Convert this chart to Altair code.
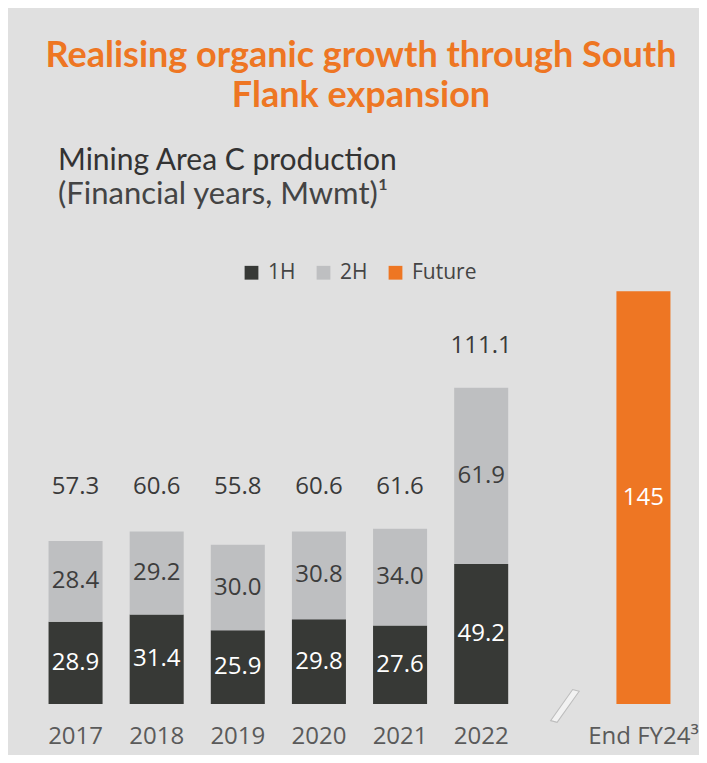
import altair as alt
import pandas as pd

# ---- data ----
years = ["2017", "2018", "2019", "2020", "2021", "2022"]
h1 = [28.9, 31.4, 25.9, 29.8, 27.6, 49.2]
h2 = [28.4, 29.2, 30.0, 30.8, 34.0, 61.9]
totals = [57.3, 60.6, 55.8, 60.6, 61.6, 111.1]
future_cat = "End FY24³"
future_val = 145
gap_cat = "gap"
domain = years + [gap_cat, future_cat]

series = ["1H", "2H", "Future"]
colors = ["#373936", "#bebfc1", "#ee7623"]
BG = "#e0e0e0"
ORANGE = "#ee7623"

rows = []
for y, a, b in zip(years, h1, h2):
    rows.append({"cat": y, "series": "1H", "value": a, "order": 0, "mid": a / 2,
                 "label": f"{a:.1f}", "light": 1})
    rows.append({"cat": y, "series": "2H", "value": b, "order": 1, "mid": a + b / 2,
                 "label": f"{b:.1f}", "light": 0})
rows.append({"cat": future_cat, "series": "Future", "value": future_val, "order": 0,
             "mid": future_val / 2, "label": f"{future_val}", "light": 1})
df = pd.DataFrame(rows)

tot_df = pd.DataFrame({
    "cat": years,
    "total": totals,
    "label": [f"{t:.1f}" for t in totals],
})
tot_df["ly"] = tot_df["total"].clip(lower=max(totals[:5])) + 14.5

NUMFONT = "Open Sans"
HEADFONT = "Lato"

x_enc = alt.X("cat:N", scale=alt.Scale(domain=domain, paddingInner=0.334, paddingOuter=0.167),
              sort=domain,
              axis=alt.Axis(title=None, labelAngle=0, domain=False, ticks=False,
                            labelPadding=20, labelFontSize=24, labelColor="#5a5a5a",
                            labelFont=NUMFONT,
                            labelExpr="datum.value == 'gap' ? '' : datum.value"))
y_scale = alt.Scale(domain=[0, 150])

bars = alt.Chart(df).mark_bar(stroke=None).encode(
    x=x_enc,
    y=alt.Y("value:Q", stack="zero", scale=y_scale, axis=None),
    color=alt.Color("series:N", scale=alt.Scale(domain=series, range=colors),
                    legend=alt.Legend(orient="none", legendX=206, legendY=-15,
                                      direction="horizontal", title=None,
                                      symbolType="square", symbolSize=190,
                                      symbolStrokeWidth=0, labelFontSize=21,
                                      labelFont=NUMFONT, labelColor="#444444",
                                      columnPadding=17, labelOffset=6)),
    order=alt.Order("order:Q"),
)

inner_light = alt.Chart(df).transform_filter("datum.light == 1").mark_text(
    fontSize=24, font=NUMFONT, baseline="middle", color="#ffffff").encode(
    x=alt.X("cat:N", sort=domain),
    y=alt.Y("mid:Q", scale=y_scale),
    text="label:N",
)
inner_dark = alt.Chart(df).transform_filter("datum.light == 0").mark_text(
    fontSize=24, font=NUMFONT, baseline="middle", color="#3d3d3d").encode(
    x=alt.X("cat:N", sort=domain),
    y=alt.Y("mid:Q", scale=y_scale),
    text="label:N",
)

tops = alt.Chart(tot_df).mark_text(fontSize=24, font=NUMFONT, baseline="middle",
                                    color="#3a3a3a").encode(
    x=alt.X("cat:N", sort=domain),
    y=alt.Y("ly:Q", scale=y_scale),
    text="label:N",
)

brk = alt.Chart(pd.DataFrame({"cat": [gap_cat], "v": [0]})).mark_text(
    text="/", fontSize=50, font=NUMFONT, fontWeight="bold", color="#f2f2f2",
    stroke="#bdbdbd", strokeWidth=1, baseline="middle", angle=15, dy=4, dx=3).encode(
    x=alt.X("cat:N", sort=domain),
    y=alt.Y("v:Q", scale=y_scale),
)

def txt(s, xv, yv, size, color, font, weight="normal", align="left"):
    return alt.Chart(pd.DataFrame({"t": [s]})).mark_text(
        fontSize=size, color=color, font=font, fontWeight=weight, align=align,
        baseline="middle").encode(text="t:N", x=alt.value(xv), y=alt.value(yv))

title1 = txt("Realising organic growth through South", 326, -221, 36, ORANGE, HEADFONT, "bold", "center")
title2 = txt("Flank expansion", 326, -181, 36, ORANGE, HEADFONT, "bold", "center")
sub1 = txt("Mining Area C production", 23, -116, 30, "#333333", HEADFONT)
sub2 = txt("(Financial years, Mwmt)¹", 23, -82, 31, "#444444", HEADFONT)

chart = alt.layer(bars, inner_light, inner_dark, tops, brk, title1, title2, sub1, sub2).properties(
    width=649, height=427,
    padding={"left": 27, "top": 269, "right": 15, "bottom": 51},
    autosize="none",
    background=BG,
).configure_view(strokeWidth=0)

chart.save("out.html", embed_options={"renderer": "svg", "actions": False})
